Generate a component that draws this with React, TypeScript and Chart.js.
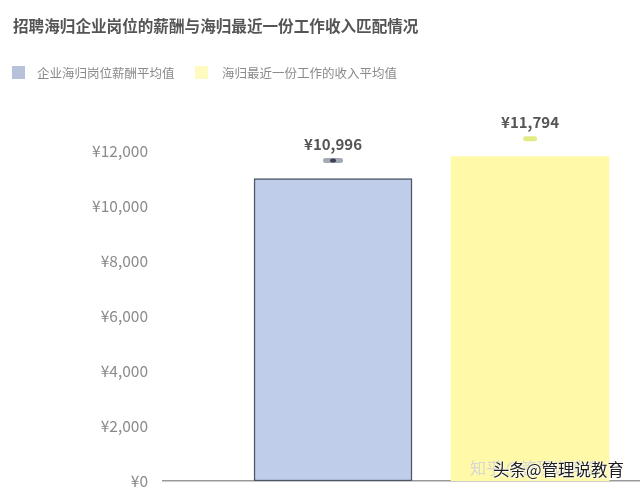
import React, { useEffect, useRef } from 'react';
import { Chart, registerables } from 'chart.js';

Chart.register(...registerables);

const title = '招聘海归企业岗位的薪酬与海归最近一份工作收入匹配情况';
const categories = ['企业海归岗位薪酬平均值', '海归最近一份工作的收入平均值'];
const values = [10996, 11794];
const yMax = 14000;
const yStep = 2000;
const yLabelMax = 12000;
const watermark = '头条@管理说教育';
const watermarkFaint = '知乎 @管理说教育';

const FONT = '"Noto Sans CJK SC", "Noto Sans", sans-serif';
const barColors = ['#bfcdea', '#fff9a8'];
const borderColors = ['#4d5566', 'rgba(0,0,0,0)'];
const borderWidths = [1.5, 0];
const legendColors = ['#b8c1da', '#fffbc0'];
const pillColors = ['#a3a9b6', '#e2ec84'];

const fmt = (v: number) => '¥' + v.toLocaleString('en-US');

const valueLabels = {
  id: 'valueLabels',
  afterDatasetsDraw(chart: any) {
    const ctx = chart.ctx;
    chart.data.datasets.forEach((_ds: any, i: number) => {
      const bar = chart.getDatasetMeta(i).data[0] as any;
      if (!bar) return;
      ctx.save();
      ctx.font = `bold 15px ${FONT}`;
      ctx.fillStyle = '#555';
      ctx.textAlign = 'center';
      ctx.textBaseline = 'middle';
      ctx.fillText(fmt(values[i]), bar.x, bar.y - 34);
      const w = i === 0 ? 20 : 14;
      const h = 5;
      ctx.fillStyle = pillColors[i];
      ctx.beginPath();
      ctx.roundRect(bar.x - w / 2, bar.y - 18 - h / 2, w, h, h / 2);
      ctx.fill();
      if (i === 0) {
        ctx.fillStyle = '#3d4250';
        ctx.beginPath();
        ctx.ellipse(bar.x, bar.y - 18, 3, 2, 0, 0, Math.PI * 2);
        ctx.fill();
      }
      ctx.restore();
    });
  },
};

export default function App() {
  const canvasRef = useRef<HTMLCanvasElement | null>(null);

  useEffect(() => {
    if (!canvasRef.current) return;
    const chart = new Chart(canvasRef.current, {
      type: 'bar',
      data: {
        datasets: categories.map((c, i) => ({
          label: c,
          data: [{ x: i + 1, y: values[i] }],
          backgroundColor: barColors[i],
          borderColor: borderColors[i],
          borderWidth: borderWidths[i],
          borderSkipped: false,
          barThickness: 158,
          grouped: false,
        })) as any,
      },
      options: {
        responsive: false,
        animation: false,
        layout: { padding: { top: 96, left: 0, right: 0, bottom: 18 } },
        plugins: {
          legend: { display: false },
          title: { display: false },
          tooltip: { enabled: false },
        },
        scales: {
          x: {
            type: 'linear',
            min: 0.137,
            max: 2.558,
            offset: false,
            ticks: { display: false },
            grid: { display: false, drawTicks: false },
            border: { display: true, color: '#9a9a9a', width: 1.5 },
          },
          y: {
            min: 0,
            max: yMax,
            ticks: {
              stepSize: yStep,
              padding: 15,
              color: '#8a8a8a',
              font: { family: FONT, size: 15.5 },
              callback: (v: any) => (Number(v) > yLabelMax ? '' : fmt(Number(v))),
            },
            grid: { display: false, drawTicks: false },
            border: { display: false },
            afterFit: (s: any) => {
              s.width = 163;
              s.paddingTop = 0;
              s.paddingBottom = 0;
            },
          },
        },
      },
      plugins: [valueLabels],
    });
    return () => chart.destroy();
  }, []);

  return (
    <div style={{ position: 'fixed', left: 0, top: 0, width: 640, height: 499, background: '#fff', overflow: 'hidden', fontFamily: FONT }}>
      <canvas ref={canvasRef} width={640} height={499} style={{ position: 'absolute', left: 0, top: 0 }} />
      <div style={{ position: 'absolute', left: 13, top: 15, fontSize: 15.6, lineHeight: '20px', fontWeight: 'bold', color: '#555', whiteSpace: 'nowrap' }}>
        {title}
      </div>
      {categories.map((c, i) => (
        <div key={c} style={{ position: 'absolute', top: 63, left: i === 0 ? 12 : 195, display: 'flex', alignItems: 'center', height: 18, whiteSpace: 'nowrap' }}>
          <span style={{ display: 'inline-block', width: 13, height: 13, background: legendColors[i], marginRight: i === 0 ? 12 : 14 }} />
          <span style={{ fontSize: 12.5, color: '#8a8a8a' }}>{c}</span>
        </div>
      ))}
      <div style={{ position: 'absolute', left: 470, top: 455, fontSize: 16, color: '#d6d6d6', whiteSpace: 'nowrap' }}>{watermarkFaint}</div>
      <div style={{ position: 'absolute', left: 493, top: 457, fontSize: 16.5, color: '#1e1e1e', whiteSpace: 'nowrap', textShadow: '0 0 2px #fff, 0 0 2px #fff, 1px 1px 1px #fff' }}>{watermark}</div>
    </div>
  );
}
